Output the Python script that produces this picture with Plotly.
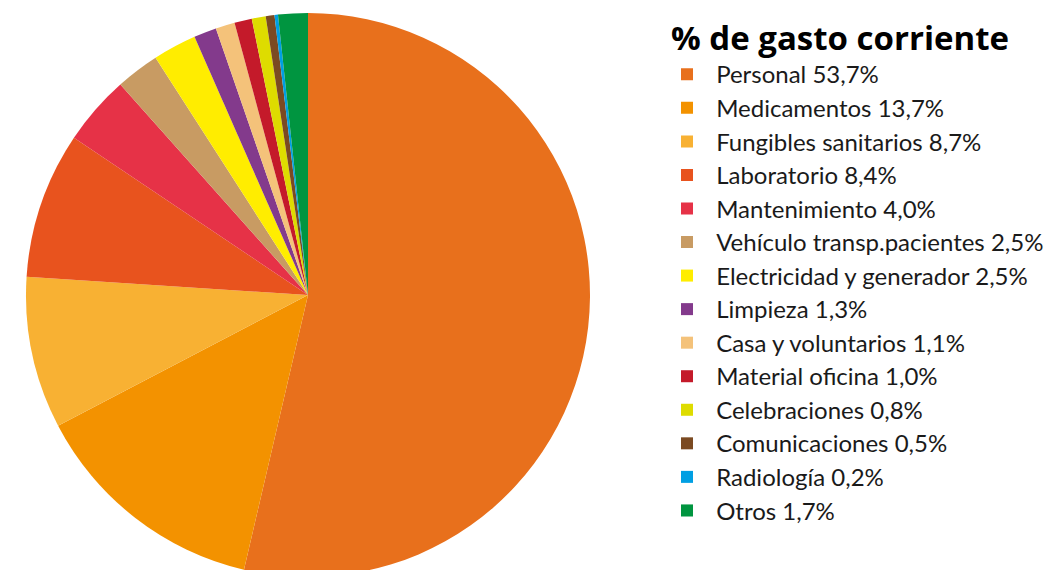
import plotly.graph_objects as go

categories = ["Personal", "Medicamentos", "Fungibles sanitarios", "Laboratorio",
              "Mantenimiento", "Vehículo transp.pacientes", "Electricidad y generador",
              "Limpieza", "Casa y voluntarios", "Material oficina", "Celebraciones",
              "Comunicaciones", "Radiología", "Otros"]
values = [53.7, 13.7, 8.7, 8.4, 4.0, 2.5, 2.5, 1.3, 1.1, 1.0, 0.8, 0.5, 0.2, 1.7]
value_labels = ["53,7%", "13,7%", "8,7%", "8,4%", "4,0%", "2,5%", "2,5%",
                "1,3%", "1,1%", "1,0%", "0,8%", "0,5%", "0,2%", "1,7%"]
colors = ["#E8701C", "#F39200", "#F8B133", "#E8531E", "#E63247", "#C89B63",
          "#FFED00", "#833A8C", "#F4C27A", "#C41A2A", "#DEDC00", "#7B4A22",
          "#009FE3", "#009540"]
title_text = "% de gasto corriente"

W, H = 1053, 590
cx, cy, r = 308, 295, 282

labels = ['<span style="font-size:24px">\u00a0\u2009' + c + " " + v + "</span>"
          for c, v in zip(categories, value_labels)]

fig = go.Figure(go.Pie(
    labels=labels,
    values=values,
    marker=dict(colors=colors, line=dict(width=0)),
    sort=False,
    direction="clockwise",
    rotation=0,
    textinfo="none",
    hoverinfo="label+value",
    domain=dict(x=[(cx - r) / W, (cx + r) / W], y=[(H - cy - r) / H, (H - cy + r) / H]),
))

fig.add_annotation(
    text="<b>" + title_text + "</b>",
    x=669 / W, y=1 - 37 / H, xref="paper", yref="paper",
    xanchor="left", yanchor="middle", showarrow=False,
    font=dict(family="Open Sans, Lato, sans-serif", size=33, weight=800, color="#000000"),
)

fig.update_layout(
    width=W, height=H,
    margin=dict(l=0, r=0, t=0, b=0),
    paper_bgcolor="white",
    plot_bgcolor="white",
    showlegend=True,
    legend=dict(
        x=667 / W, y=1 - 52.5 / H, xanchor="left", yanchor="top",
        font=dict(family="Lato, Open Sans, sans-serif", size=23.5, color="#1a1a1a"),
        bgcolor="rgba(0,0,0,0)",
    ),
)

fig.write_html("out.html", post_script="document.documentElement.style.overflow='hidden';document.body.style.overflow='hidden';")
